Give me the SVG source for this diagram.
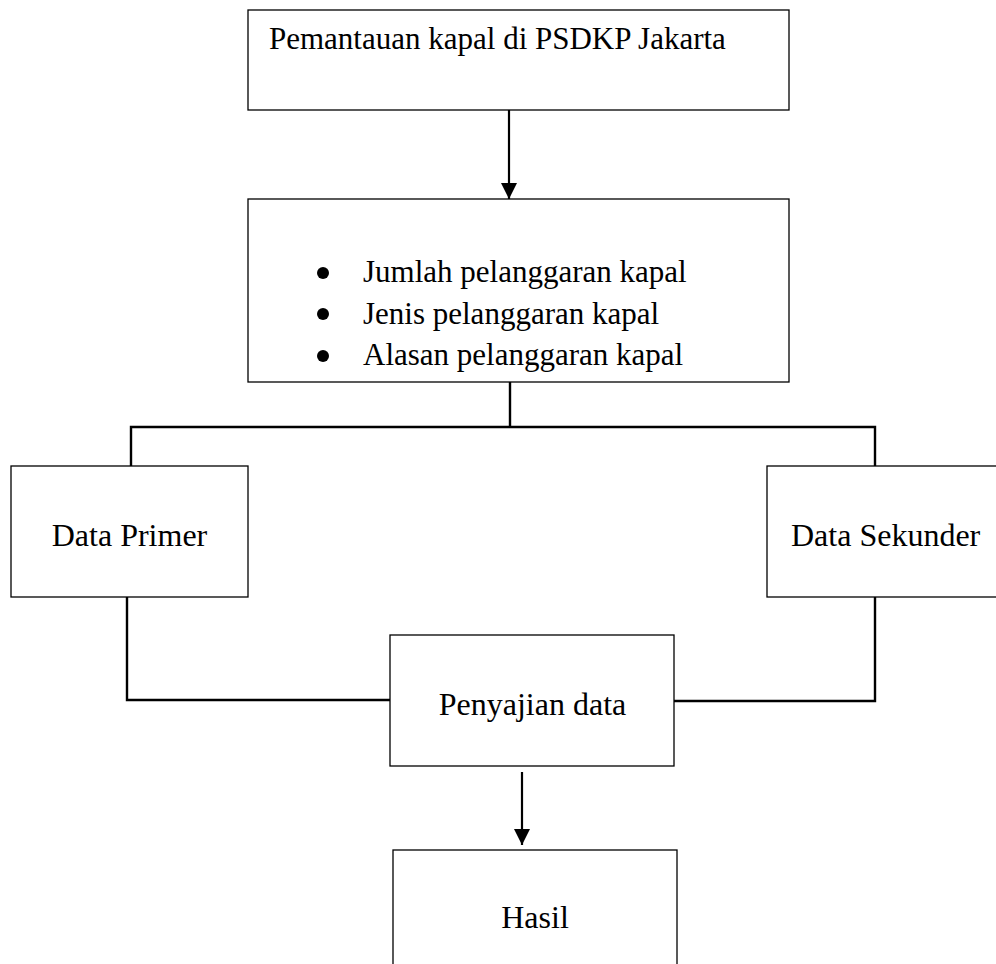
<svg xmlns="http://www.w3.org/2000/svg" width="996" height="964" viewBox="0 0 996 964">
<style>
.box{fill:#fff;stroke:#000;stroke-width:1.3}
.t{font-family:"Liberation Serif","Times New Roman",serif;font-size:31px;fill:#000}
.l{font-family:"Liberation Serif","Times New Roman",serif;font-size:32px;fill:#000}
.c{fill:none;stroke:#000;stroke-width:2.4}
.a{fill:none;stroke:#000;stroke-width:2.2}
</style>
<defs>
<marker id="ah" markerUnits="userSpaceOnUse" markerWidth="16" markerHeight="17" refX="16" refY="8" orient="auto">
<path d="M0,0 L16,8 L0,16 Z" fill="#000"/>
</marker>
</defs>
<rect width="996" height="964" fill="#fff"/>
<g id="connectors">
<line class="a" x1="509" y1="110" x2="509" y2="199" marker-end="url(#ah)"/>
<polyline class="c" points="510,382 510,427"/>
<polyline class="c" points="131,466 131,427 875,427 875,466"/>
<polyline class="c" points="127,597 127,700 390,700"/>
<polyline class="c" points="875,597 875,701 674,701"/>
<line class="a" x1="522" y1="772" x2="522" y2="845" marker-end="url(#ah)"/>
</g>
<g id="n1">
<rect class="box" x="248" y="10" width="541" height="100"/>
<text class="t" x="269" y="49">Pemantauan kapal di PSDKP Jakarta</text>
</g>
<g id="n2">
<rect class="box" x="248" y="199" width="541" height="183"/>
<circle cx="323" cy="273" r="6"/>
<circle cx="323" cy="314" r="6"/>
<circle cx="323" cy="356" r="6"/>
<text class="t" x="363" y="282">Jumlah pelanggaran kapal</text>
<text class="t" x="363" y="323.5">Jenis pelanggaran kapal</text>
<text class="t" x="363" y="365">Alasan pelanggaran kapal</text>
</g>
<g id="n3">
<rect class="box" x="11" y="466" width="237" height="131"/>
<text class="l" x="129.5" y="546" text-anchor="middle">Data Primer</text>
</g>
<g id="n4">
<rect class="box" x="767" y="466" width="240" height="131"/>
<text class="l" x="791" y="546">Data Sekunder</text>
</g>
<g id="n5">
<rect class="box" x="390" y="635" width="284" height="131"/>
<text class="l" x="532.5" y="715" text-anchor="middle">Penyajian data</text>
</g>
<g id="n6">
<rect class="box" x="393" y="850" width="284" height="130"/>
<text class="l" x="535" y="928" text-anchor="middle">Hasil</text>
</g>
</svg>
